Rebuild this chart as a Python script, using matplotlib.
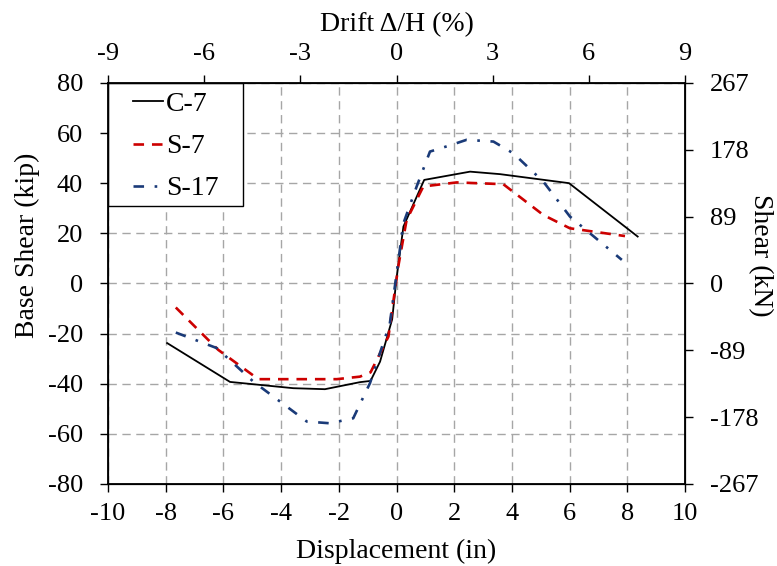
import numpy as np
import matplotlib
matplotlib.use("Agg")
import matplotlib.pyplot as plt
from matplotlib.patches import Rectangle

plt.rcParams['font.family'] = ['Liberation Serif', 'DejaVu Serif']
plt.rcParams['font.size'] = 19
plt.rcParams['axes.unicode_minus'] = False

# pushover envelopes: displacement (in) vs base shear (kip)
c7_x = [-7.95, -5.77, -3.58, -2.48, -1.27, -0.9, -0.57, -0.15, 0.0, 0.24, 0.96, 2.55, 3.59, 5.98, 8.36]
c7_y = [-23.8, -39.3, -41.8, -42.2, -39.4, -38.9, -31.2, -14.3, 2.0, 22.7, 41.3, 44.6, 43.6, 40.0, 18.7]

s7_x = [-7.65, -6.18, -4.79, -2.07, -1.27, -0.9, -0.28, 0.06, 0.35, 0.93, 2.09, 3.7, 5.09, 6.01, 7.92]
s7_y = [-9.6, -26.5, -38.2, -38.2, -37.2, -35.5, -21.2, 6.7, 25.3, 38.7, 40.3, 39.6, 27.3, 22.0, 18.9]

s17_x = [-7.65, -6.23, -4.96, -3.11, -2.31, -1.5, -0.92, -0.23, 0.24, 0.7, 1.16, 1.91, 2.43, 3.36, 4.05, 5.09, 6.01, 7.81]
s17_y = [-19.6, -25.8, -39.2, -55.1, -55.8, -53.8, -39.8, -15.9, 24.0, 38.7, 52.6, 55.3, 57.3, 56.6, 51.9, 40.6, 26.7, 9.4]

x_ticks = np.arange(-10, 11, 2)
y_ticks = np.arange(-80, 81, 20)
drift_ticks = np.arange(-9, 10, 3)
kn_ticks = [-267, -178, -89, 0, 89, 178, 267]

fig = plt.figure(figsize=(7.77, 5.66), dpi=100)
ax = fig.add_axes([0.139, 0.145, 0.7426, 0.7085])

ax.plot(c7_x, c7_y, color='black', lw=1.3, ls='-', label='C-7')
ax.plot(s7_x, s7_y, color='#cc0000', lw=1.9, ls=(0, (4, 3)), label='S-7')
ax.plot(s17_x, s17_y, color='#1a3a78', lw=1.9, ls=(0, (4, 4, 1, 4)), label='S-17')

ax.set_xlim(-10, 10)
ax.set_ylim(-80, 80)
ax.set_xticks(x_ticks)
ax.set_yticks(y_ticks)
ax.grid(True, color='#a6a6a6', ls=(0, (6, 4)), lw=1.0)
ax.set_xlabel('Displacement (in)', fontsize=20, labelpad=10)
ax.set_ylabel('Base Shear (kip)', fontsize=20)
ax.yaxis.set_label_coords(-0.118, 0.596)
ax.tick_params(axis='x', direction='out', length=6, width=1.0, pad=8)
ax.tick_params(axis='y', direction='out', length=6, width=1.0, pad=12)

for sp in ax.spines.values():
    sp.set_linewidth(1.3)

# legend frame drawn as a plain box in the upper-left corner
ax.add_patch(Rectangle((0, 0.693), 0.234, 0.307, transform=ax.transAxes,
                       facecolor='white', edgecolor='black', lw=1.0, zorder=3))
leg = ax.legend(loc='upper left', bbox_to_anchor=(0.043, 0.978), frameon=False,
                handlelength=1.1, handletextpad=0.1, borderpad=0.0,
                borderaxespad=0.0, labelspacing=0.6, fontsize=20)
leg.set_zorder(4)

top = ax.twiny()
top.set_xlim(-9, 9)
top.set_xticks(drift_ticks)
top.set_xlabel('Drift \u0394/H (%)', fontsize=20, labelpad=8.5)
top.tick_params(direction='out', length=6, width=1.0, pad=7)

right = ax.twinx()
right.set_ylim(-267, 267)
right.set_yticks(kn_ticks)
right.set_ylabel('Shear (kN)', fontsize=20, rotation=270)
right.yaxis.set_label_coords(1.152, 0.571)
right.tick_params(direction='out', length=6, width=1.0, pad=12)

fig.savefig('out.png', dpi=100)
